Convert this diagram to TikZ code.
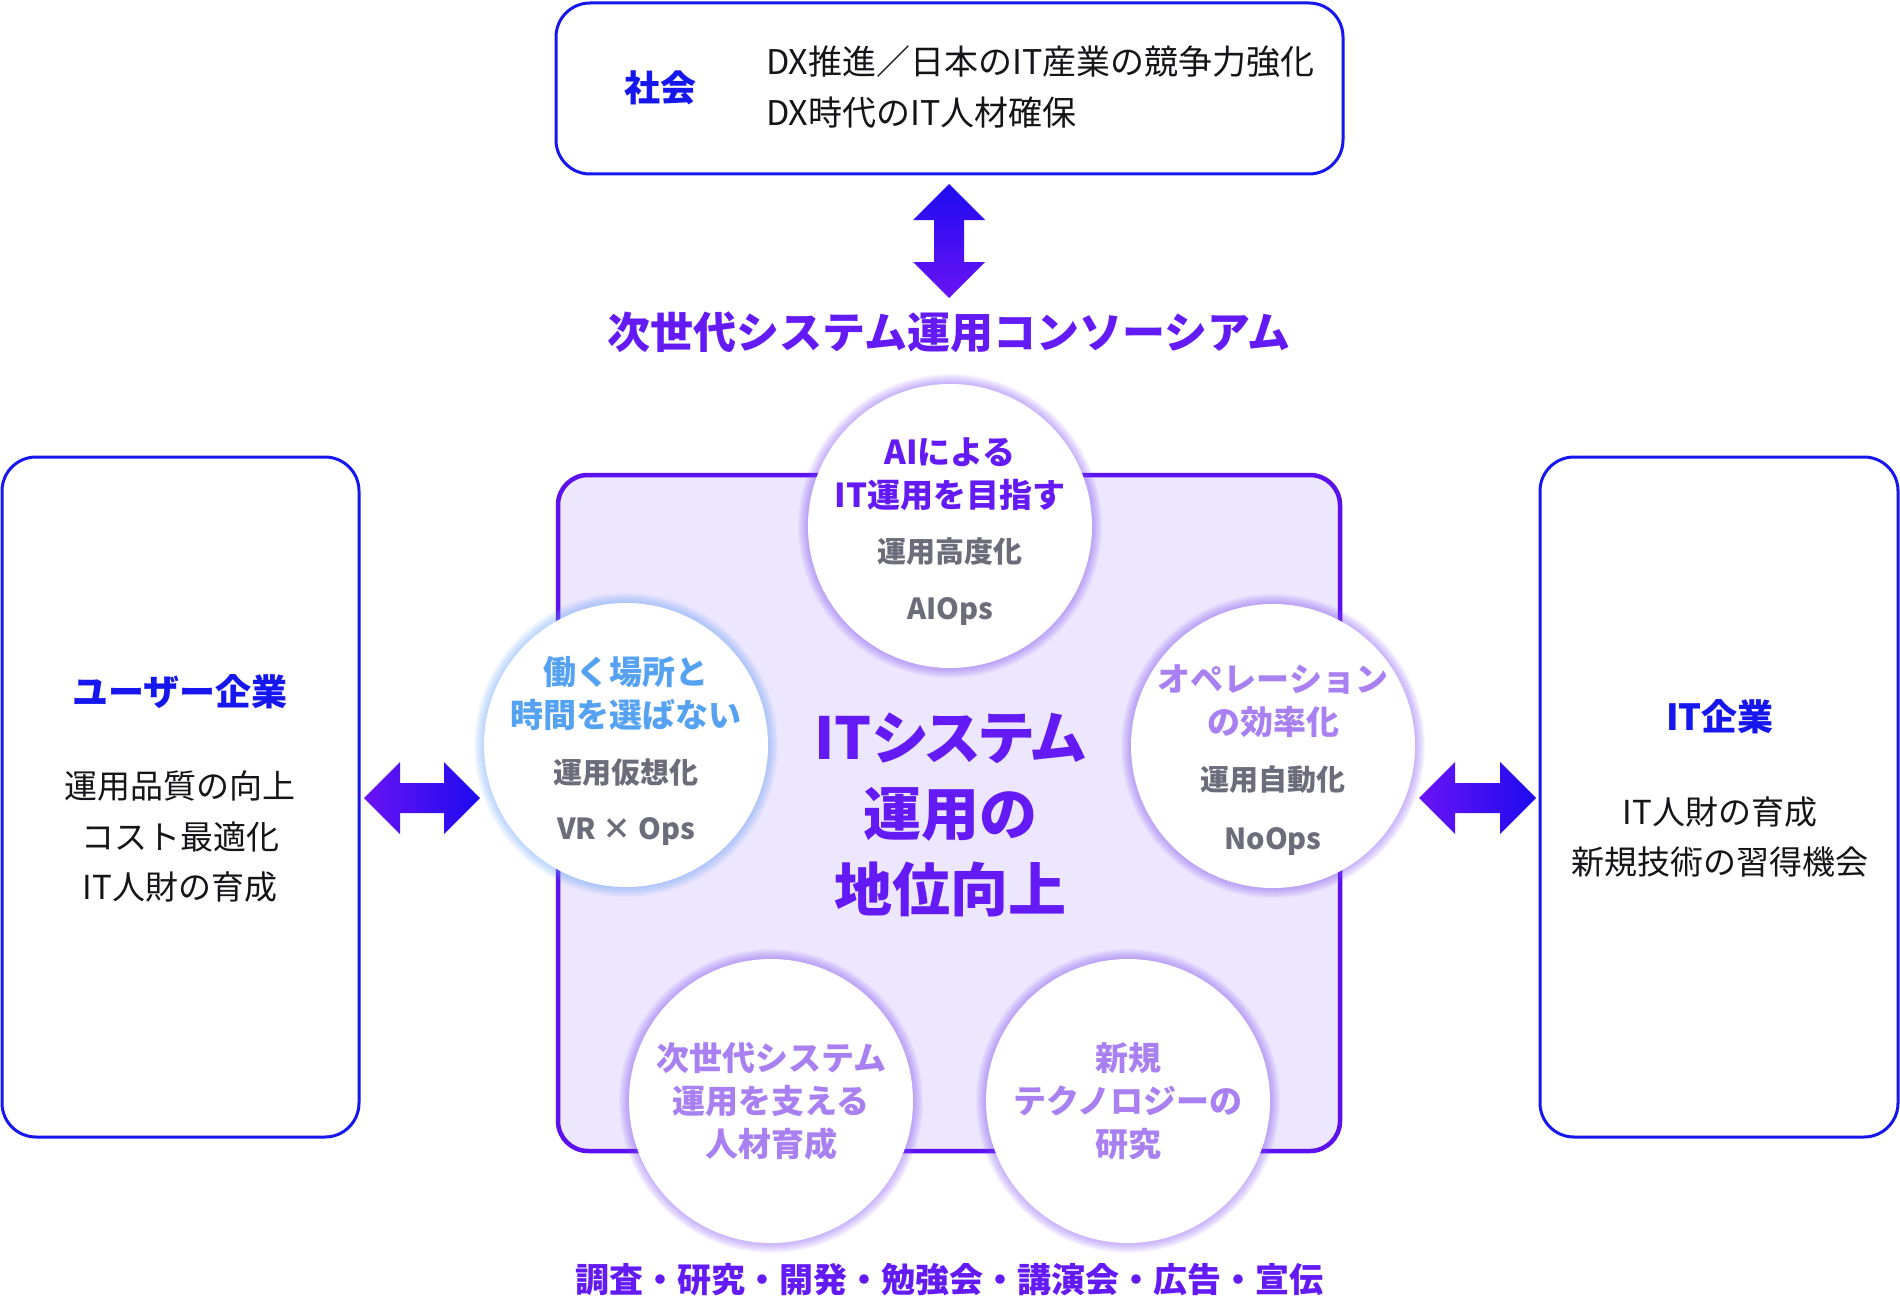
\documentclass[tikz,border=0pt]{standalone}
\usepackage{fontspec}
\setmainfont{Noto Sans CJK JP}
\newfontfamily\jpp{Noto Sans CJK JP}[RawFeature=+palt]
\newcommand\fsz[2]{\fontsize{#1}{#2}\selectfont}
\definecolor{bblue}{RGB}{22,22,238}
\definecolor{vio}{RGB}{100,26,245}
\definecolor{corev}{RGB}{92,16,240}
\definecolor{lav}{RGB}{237,230,255}
\definecolor{gtxt}{RGB}{108,108,122}
\definecolor{lblue}{RGB}{85,162,242}
\definecolor{lvio}{RGB}{168,128,242}
\definecolor{gvio}{RGB}{130,80,245}
\definecolor{gblue}{RGB}{100,160,250}
\definecolor{arrblue}{RGB}{30,10,240}
\definecolor{arrvio}{RGB}{105,20,245}
\definecolor{ink}{RGB}{20,20,25}
\tikzset{
  bbox/.style={draw=bblue, line width=3pt, rounded corners=34pt, fill=white, inner sep=0},
  corebox/.style={draw=corev, line width=4.5pt, rounded corners=30pt, fill=lav, inner sep=0},
  circ/.style={circle, fill=white, minimum size=284pt, inner sep=0},
  txt/.style={inner sep=0},
  head/.style={txt, font=\fsz{33}{43}\bfseries, align=center},
  sub/.style={txt, text=gtxt, font=\fsz{29}{29}\bfseries},
  blk/.style={txt, text=ink, font=\fsz{33}{50.5}, align=center},
}
\begin{document}
\begin{tikzpicture}[x=1pt,y=-1pt]
\useasboundingbox (0,0) rectangle (1900,1300);

% boxes
\node[bbox, minimum width=787pt, minimum height=171pt] (soc) at (949.5,88.5) {};
\node[bbox, minimum width=357pt, minimum height=680pt] (user) at (180.5,797) {};
\node[bbox, minimum width=358pt, minimum height=680pt] (itco) at (1719,797) {};
\node[corebox, minimum width=782pt, minimum height=676pt] (core) at (949,813) {};

% top box text
\node[txt, text=bblue, font=\fsz{36}{36}\bfseries] (socT) at (660,88) {社会};
\node[txt, text=ink, font=\fsz{34}{51}, align=left, anchor=west] (socL) at (766,87)
  {DX推進／日本のIT産業の競争力強化\\DX時代のIT人材確保};

% vertical double arrow
\shade[top color=arrblue, bottom color=arrvio]
  (949,184) -- (985,220) -- (964,220) -- (964,262) -- (985,262) -- (949,298)
  -- (913,262) -- (934,262) -- (934,220) -- (913,220) -- cycle;

% title
\node[txt, text=vio, font=\fsz{43}{43}\bfseries] (title) at (949,332) {次世代システム運用コンソーシアム};

% horizontal double arrows
\shade[left color=arrvio, middle color=arrvio!85!arrblue, right color=arrblue]
  (364,798) -- (400,762) -- (400,783) -- (444,783) -- (444,762) -- (480,798)
  -- (444,834) -- (444,813) -- (400,813) -- (400,834) -- cycle;
\shade[left color=arrvio, middle color=arrvio!85!arrblue, right color=arrblue]
  (1419,798) -- (1455,762) -- (1455,783) -- (1500,783) -- (1500,762) -- (1536,798)
  -- (1500,834) -- (1500,813) -- (1455,813) -- (1455,834) -- cycle;

% side box texts
\node[txt, text=bblue, font=\fsz{36}{36}\bfseries] (userT) at (180,692) {ユーザー企業};
\node[blk] (userL) at (180,837) {運用品質の向上\\コスト最適化\\IT人財の育成};
\node[txt, text=bblue, font=\fsz{36}{36}\bfseries] (itcoT) at (1720,717) {IT企業};
\node[blk] (itcoL) at (1720,837) {IT人財の育成\\新規技術の習得機会};

% centre text
\node[txt, text=vio, font=\jpp\fsz{58}{76}\bfseries, align=center] (mid) at (950,815)
  {ITシステム\\運用の\\地位向上};

% circles
\coordinate (cT) at (950,526);
\coordinate (cL) at (626,745);
\coordinate (cR) at (1273,746);
\coordinate (cBL) at (771,1101);
\coordinate (cBR) at (1128,1101);
\foreach \pc/\pgl in {cT/gvio, cL/gblue, cR/gvio, cBL/gvio, cBR/gvio}{
  \foreach \i in {1,...,10}{
    \fill[\pgl, opacity=0.06] (\pc) circle ({141pt+\i*1.1pt});
  }
}
\node[circ] (circT) at (cT) {};
\node[circ] (circL) at (cL) {};
\node[circ] (circR) at (cR) {};
\node[circ] (circBL) at (cBL) {};
\node[circ] (circBR) at (cBR) {};

% top circle
\node[head, text=vio] (hT) at (950,474) {AIによる\\IT運用を目指す};
\node[sub] (sT1) at (950,552) {運用高度化};
\node[sub] (sT2) at (950,612) {AIOps};
% left circle
\node[head, text=lblue] (hL) at (626,693.5) {働く場所と\\時間を選ばない};
\node[sub] (sL1) at (626,773) {運用仮想化};
\node[sub] (sL2) at (626,832) {VR × Ops};
% right circle
\node[head, text=lvio] (hR) at (1273,701.5) {オペレーション\\の効率化};
\node[sub] (sR1) at (1273,780) {運用自動化};
\node[sub] (sR2) at (1273,842) {NoOps};
% bottom circles
\node[head, text=lvio] (hBL) at (771,1101) {次世代システム\\運用を支える\\人材育成};
\node[head, text=lvio] (hBR) at (1128,1101) {新規\\テクノロジーの\\研究};

% bottom line
\node[txt, text=vio, font=\fsz{34}{34}\bfseries] (acts) at (949,1280) {調査・研究・開発・勉強会・講演会・広告・宣伝};
\end{tikzpicture}
\end{document}
